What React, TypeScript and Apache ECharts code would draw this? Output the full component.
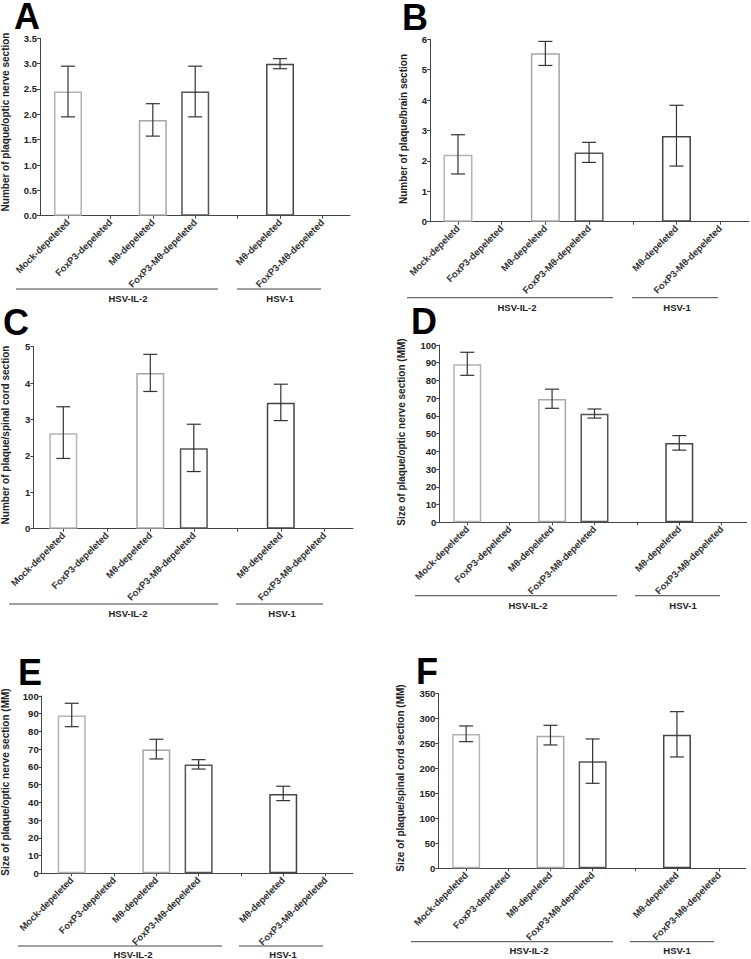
import React, { useEffect, useRef } from 'react';
import * as echarts from 'echarts';

// ---------- data ----------
const CATEGORIES = ['Mock-depeleted', 'FoxP3-depeleted', 'Mθ-depeleted', 'FoxP3-Mθ-depeleted', '', 'Mθ-depeleted', 'FoxP3-Mθ-depeleted'];
const CATEGORIES_B = ['Mock-depeletd', 'FoxP3-depeleted', 'Mθ-depeleted', 'FoxP3-Mθ-depeleted', '', 'Mθ-depeleted', 'FoxP3-Mθ-depeleted'];
const LABELED_TICKS = [0, 1, 2, 3, 5, 6];
const ALL_TICKS = [0, 1, 2, 3, 4, 5, 6];
const GROUP_LABELS = ['HSV-IL-2', 'HSV-1'];
const PANEL_LETTERS = ['A', 'B', 'C', 'D', 'E', 'F'];
const Y_TITLES = [
  'Number of plaque/optic nerve section',
  'Number of plaque/brain section',
  'Number of plaque/spinal cord section',
  'Size of plaque/optic nerve section (MM)',
  'Size of plaque/optic nerve section (MM)',
  'Size of plaque/spinal cord section (MM)',
];

const A_MEAN = [2.45, null, 1.89, 2.45, null, 3.0, null];
const A_LOW = [1.95, null, 1.57, 1.95, null, 2.9, null];
const A_HIGH = [2.95, null, 2.21, 2.95, null, 3.1, null];

const B_MEAN = [2.2, null, 5.54, 2.28, null, 2.82, null];
const B_LOW = [1.57, null, 5.14, 1.95, null, 1.83, null];
const B_HIGH = [2.86, null, 5.93, 2.61, null, 3.83, null];

const C_MEAN = [2.62, null, 4.28, 2.21, null, 3.46, null];
const C_LOW = [1.93, null, 3.77, 1.57, null, 2.97, null];
const C_HIGH = [3.35, null, 4.79, 2.87, null, 3.97, null];

const D_MEAN = [89.1, null, 69.6, 61.2, null, 44.7, null];
const D_LOW = [82.9, null, 64.3, 58.8, null, 40.7, null];
const D_HIGH = [95.9, null, 75.1, 63.9, null, 48.9, null];

const E_MEAN = [89.0, null, 69.8, 61.3, null, 44.7, null];
const E_LOW = [82.7, null, 64.5, 58.8, null, 41.0, null];
const E_HIGH = [95.9, null, 75.6, 64.1, null, 49.1, null];

const F_MEAN = [268.6, null, 265.3, 214.0, null, 267.3, null];
const F_LOW = [253.3, null, 246.7, 170.0, null, 222.7, null];
const F_HIGH = [284.7, null, 286.0, 258.7, null, 313.3, null];

const Y_MAX = [3.5, 6, 5, 100, 100, 350];
const Y_INTERVAL = [0.5, 1, 1, 10, 10, 50];
const Y_DECIMALS = [1, 0, 0, 0, 0, 0];

// ---------- layout / style ----------
const LAYOUT = [
  { left: 40, top: 38.3, width: 310, height: 177.4, xMin: -0.66, xMax: 6.65, barW: 28,
    letter: [14, 16.5], title: [5, 122], lineY: 289, il2: [16, 218], hsv1: [237, 321], labY: 298, labX: [128, 280] },
  { left: 430, top: 39.3, width: 319, height: 182.4, xMin: -0.64, xMax: 6.66, barW: 29,
    letter: [402, 17.5], title: [403, 129], lineY: 297.7, il2: [407, 613], hsv1: [632, 718], labY: 307, labX: [517, 677] },
  { left: 33.3, top: 346.7, width: 319.7, height: 182, xMin: -0.69, xMax: 6.66, barW: 28,
    letter: [3, 322.5], title: [5, 435], lineY: 604, il2: [9, 218], hsv1: [236, 323], labY: 613, labX: [128, 282] },
  { left: 439.3, top: 345, width: 307.4, height: 177.3, xMin: -0.66, xMax: 6.59, barW: 28,
    letter: [411, 321.5], title: [401, 432], lineY: 595.7, il2: [415, 617], hsv1: [635, 720], labY: 605, labX: [528, 683] },
  { left: 41.7, top: 696, width: 311.3, height: 177.3, xMin: -0.71, xMax: 6.65, barW: 28,
    letter: [18, 672.5], title: [5, 782], lineY: 946, il2: [18, 222], hsv1: [239, 323], labY: 954, labX: [133, 283] },
  { left: 438.3, top: 693.3, width: 307.4, height: 175, xMin: -0.66, xMax: 6.63, barW: 28,
    letter: [416, 671], title: [400, 778], lineY: 941.7, il2: [411, 613], hsv1: [630, 714], labY: 950, labX: [529, 677] },
];

const BAR_BORDER = ['#b4b4b4', '#888', '#a6a6a6', '#555', '#888', '#444', '#888'];
const FONT = '"Liberation Sans", Arial, Helvetica, sans-serif';
const AXIS_COLOR = '#444';
const TEXT_COLOR = '#222';
const ERR_COLOR = '#333';

const MEANS = [A_MEAN, B_MEAN, C_MEAN, D_MEAN, E_MEAN, F_MEAN];
const LOWS = [A_LOW, B_LOW, C_LOW, D_LOW, E_LOW, F_LOW];
const HIGHS = [A_HIGH, B_HIGH, C_HIGH, D_HIGH, E_HIGH, F_HIGH];

function buildOption() {
  const grid: any[] = [];
  const xAxis: any[] = [];
  const yAxis: any[] = [];
  const series: any[] = [];
  const graphic: any[] = [];

  LAYOUT.forEach((L, p) => {
    const cats = p === 1 ? CATEGORIES_B : CATEGORIES;
    grid.push({ left: L.left, top: L.top, width: L.width, height: L.height, containLabel: false, outerBoundsMode: 'none' });
    xAxis.push({
      type: 'value', gridIndex: p, min: L.xMin, max: L.xMax,
      splitLine: { show: false },
      axisLine: { show: true, onZero: false, lineStyle: { color: AXIS_COLOR, width: 1 } },
      axisTick: { show: true, customValues: ALL_TICKS, length: 3, lineStyle: { color: AXIS_COLOR } },
      axisLabel: {
        show: true, customValues: LABELED_TICKS, rotate: 45, margin: 5,
        fontSize: 9.5, fontWeight: 'bold', color: '#333', fontFamily: FONT,
        formatter: (v: number) => cats[Math.round(v)] || '',
      },
    });
    yAxis.push({
      type: 'value', gridIndex: p, min: 0, max: Y_MAX[p], interval: Y_INTERVAL[p],
      splitLine: { show: false },
      axisLine: { show: true, onZero: false, lineStyle: { color: AXIS_COLOR, width: 1 } },
      axisTick: { show: true, length: 3, lineStyle: { color: AXIS_COLOR } },
      axisLabel: {
        margin: 3, fontSize: 9.5, fontWeight: 'bold', color: TEXT_COLOR, fontFamily: FONT,
        formatter: (v: number) => v.toFixed(Y_DECIMALS[p]),
      },
    });

    const barData: any[] = [];
    const errData: any[] = [];
    MEANS[p].forEach((m, i) => {
      if (m === null) return;
      barData.push({ value: [i, m], itemStyle: { color: '#fff', borderColor: BAR_BORDER[i], borderWidth: 1.5 } });
      errData.push([i, LOWS[p][i], HIGHS[p][i]]);
    });
    series.push({
      type: 'bar', xAxisIndex: p, yAxisIndex: p, barWidth: L.barW, data: barData, z: 2,
    });
    series.push({
      type: 'custom', xAxisIndex: p, yAxisIndex: p, z: 3, data: errData,
      encode: { x: 0, y: [1, 2] },
      renderItem: (_params: any, api: any) => {
        const x = api.value(0);
        const pLo = api.coord([x, api.value(1)]);
        const pHi = api.coord([x, api.value(2)]);
        const hw = 7;
        const style = { stroke: ERR_COLOR, lineWidth: 1.2 };
        return {
          type: 'group',
          children: [
            { type: 'line', shape: { x1: pHi[0], y1: pHi[1], x2: pLo[0], y2: pLo[1] }, style },
            { type: 'line', shape: { x1: pHi[0] - hw, y1: pHi[1], x2: pHi[0] + hw, y2: pHi[1] }, style },
            { type: 'line', shape: { x1: pLo[0] - hw, y1: pLo[1], x2: pLo[0] + hw, y2: pLo[1] }, style },
          ],
        };
      },
    });

    // panel letter
    graphic.push({
      type: 'text', x: L.letter[0], y: L.letter[1],
      style: { text: PANEL_LETTERS[p], fontSize: 36, lineHeight: 26, fontWeight: 'bold', fontFamily: FONT, fill: '#000', align: 'left', verticalAlign: 'middle' },
    });
    // y title
    graphic.push({
      type: 'text', x: L.title[0], y: L.title[1], rotation: Math.PI / 2,
      style: { text: Y_TITLES[p], fontSize: 10, fontWeight: 'bold', fontFamily: FONT, fill: TEXT_COLOR, align: 'center', verticalAlign: 'middle' },
    });
    // group lines + labels
    graphic.push({ type: 'line', shape: { x1: L.il2[0], y1: L.lineY, x2: L.il2[1], y2: L.lineY }, style: { stroke: AXIS_COLOR, lineWidth: 1 } });
    graphic.push({ type: 'line', shape: { x1: L.hsv1[0], y1: L.lineY, x2: L.hsv1[1], y2: L.lineY }, style: { stroke: AXIS_COLOR, lineWidth: 1 } });
    GROUP_LABELS.forEach((g, k) => {
      graphic.push({
        type: 'text', x: L.labX[k], y: L.labY,
        style: { text: g, fontSize: 9.5, fontWeight: 'bold', fontFamily: FONT, fill: TEXT_COLOR, align: 'center', verticalAlign: 'middle' },
      });
    });
  });

  return {
    animation: false,
    backgroundColor: '#fff',
    grid, xAxis, yAxis, series, graphic,
  };
}

export default function App() {
  const ref = useRef<HTMLDivElement>(null);
  useEffect(() => {
    if (!ref.current) return;
    const chart = echarts.init(ref.current, undefined, { renderer: 'svg' });
    chart.setOption(buildOption() as any);
    return () => chart.dispose();
  }, []);
  return (
    <div
      ref={ref}
      style={{ position: 'fixed', left: 0, top: 0, width: 751, height: 959, background: '#fff' }}
    />
  );
}
